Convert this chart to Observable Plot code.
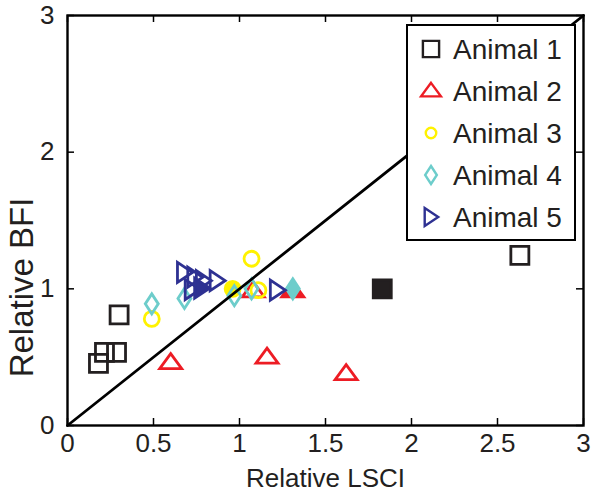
<!DOCTYPE html>
<html>
<head>
<meta charset="utf-8">
<script src="https://cdn.jsdelivr.net/npm/d3@7"></script>
<script src="https://cdn.jsdelivr.net/npm/@observablehq/plot@0.6"></script>
<style>
  body { margin: 0; background: #fff; }
  #chart { width: 600px; height: 495px; }
</style>
</head>
<body>
<div id="chart"></div>
<script>
// ---- data ----
const seriesNames = ["Animal 1", "Animal 2", "Animal 3", "Animal 4", "Animal 5"];
const seriesColors = ["#231f20", "#ed1c24", "#fff200", "#6dcdcb", "#2e3192"];

const animal1X = [0.18, 0.215, 0.285, 0.30, 2.63, 1.83];
const animal1Y = [0.455, 0.535, 0.535, 0.81, 1.245, 1.00];
const animal1Filled = [0, 0, 0, 0, 0, 1];

const animal2X = [0.60, 1.16, 1.62, 1.08, 1.31];
const animal2Y = [0.46, 0.50, 0.38, 0.985, 0.985];
const animal2Filled = [0, 0, 0, 0, 1];

const animal3X = [0.49, 1.07, 0.96, 1.11];
const animal3Y = [0.78, 1.22, 1.00, 0.99];
const animal3Filled = [0, 0, 1, 0];

const animal4X = [0.49, 0.68, 0.97, 1.07, 1.31];
const animal4Y = [0.89, 0.93, 0.95, 1.00, 1.00];
const animal4Filled = [0, 0, 0, 0, 1];

const animal5X = [0.68, 0.74, 0.79, 0.87, 0.725, 0.78, 1.22];
const animal5Y = [1.12, 1.085, 1.06, 1.06, 0.995, 1.005, 0.99];
const animal5Filled = [0, 0, 0, 0, 0, 1, 0];

const xTicks = [0, 0.5, 1, 1.5, 2, 2.5, 3];
const xTickLabels = ["0", "0.5", "1", "1.5", "2", "2.5", "3"];
const yTicks = [0, 1, 2, 3];
const yTickLabels = ["0", "1", "2", "3"];
const identityLine = [0, 3];
const xTitle = "Relative LSCI";
const yTitle = "Relative BFI";

// ---- build table ----
const seriesX = [animal1X, animal2X, animal3X, animal4X, animal5X];
const seriesY = [animal1Y, animal2Y, animal3Y, animal4Y, animal5Y];
const seriesF = [animal1Filled, animal2Filled, animal3Filled, animal4Filled, animal5Filled];
const points = [];
seriesNames.forEach((name, s) => {
  seriesX[s].forEach((x, i) => points.push({animal: name, s, x, y: seriesY[s][i], filled: !!seriesF[s][i]}));
});

// ---- custom symbols (fixed pixel geometry, scaled by k) ----
function makeSymbols(k, kc) {
  return [
    {draw(c) { const h = 9 * k; c.moveTo(-h, -h); c.lineTo(h, -h); c.lineTo(h, h); c.lineTo(-h, h); c.closePath(); }},
    {draw(c) { c.moveTo(0, -9 * k); c.lineTo(11 * k, 6 * k); c.lineTo(-11 * k, 6 * k); c.closePath(); }},
    {draw(c) { const r = 7.5 * kc; c.moveTo(r, 0); c.arc(0, 0, r, 0, 2 * Math.PI); c.closePath(); }},
    {draw(c) { c.moveTo(0, -10 * k); c.lineTo(6.5 * k, 0); c.lineTo(0, 10 * k); c.lineTo(-6.5 * k, 0); c.closePath(); }},
    {draw(c) { c.moveTo(8 * k, 0); c.lineTo(-7 * k, -10 * k); c.lineTo(-7 * k, 10 * k); c.closePath(); }}
  ];
}
const symbols = makeSymbols(1, 1);
const legendSymbols = makeSymbols(0.9, 0.7);

const font = "'Liberation Sans', Arial, Helvetica, sans-serif";
const ink = "#231f20";

const dotMarks = seriesNames.map((name, s) =>
  Plot.dot(points.filter(p => p.s === s), {
    x: "x", y: "y", r: 9,
    symbol: () => symbols[s],
    stroke: seriesColors[s],
    fill: d => d.filled ? seriesColors[s] : "none",
    strokeWidth: 2.8
  })
);

const chart = Plot.plot({
  width: 600, height: 495,
  marginLeft: 67, marginRight: 17, marginTop: 15, marginBottom: 70,
  style: {fontFamily: font, background: "white", overflow: "visible"},
  x: {domain: [0, 3], axis: null},
  y: {domain: [0, 3], axis: null},
  symbol: {type: "identity"},
  marks: [
    ...dotMarks,
    Plot.line(identityLine, {x: d => d, y: d => d, stroke: "black", strokeWidth: 2.8}),
    Plot.frame({stroke: "black", strokeWidth: 2.4}),
    Plot.tickX(xTicks, {x: d => d, stroke: "black", strokeWidth: 1.5, insetTop: 403}),
    Plot.tickX(xTicks, {x: d => d, stroke: "black", strokeWidth: 1.5, insetBottom: 403}),
    Plot.tickY(yTicks, {y: d => d, stroke: "black", strokeWidth: 1.5, insetRight: 509}),
    Plot.tickY(yTicks, {y: d => d, stroke: "black", strokeWidth: 1.5, insetLeft: 509}),
    Plot.text(xTicks, {x: d => d, text: (d, i) => xTickLabels[i], frameAnchor: "bottom", dy: 18, fontSize: 26, fill: ink, textAnchor: "middle", lineAnchor: "middle"}),
    Plot.text(yTicks, {y: d => d, text: (d, i) => yTickLabels[i], frameAnchor: "left", dx: -13, textAnchor: "end", fontSize: 26, fill: ink}),
    Plot.text([xTitle], {text: d => d, frameAnchor: "bottom", dy: 53, fontSize: 26, fill: ink, textAnchor: "middle", lineAnchor: "middle"}),
    Plot.text([yTitle], {text: d => d, frameAnchor: "left", dx: -45, dy: 67, rotate: -90, fontSize: 33, fill: ink, textAnchor: "middle"})
  ]
});

// ---- legend ----
const svg = d3.select(chart);
const lg = svg.append("g").attr("class", "legend");
lg.append("rect").attr("x", 407).attr("y", 25).attr("width", 168).attr("height", 215)
  .attr("fill", "white").attr("stroke", "black").attr("stroke-width", 2);
seriesNames.forEach((name, s) => {
  const cy = 49 + 42 * s;
  const p = d3.path();
  legendSymbols[s].draw(p);
  lg.append("path").attr("transform", `translate(431,${cy})`).attr("d", p.toString())
    .attr("fill", "none").attr("stroke", seriesColors[s]).attr("stroke-width", 2.4);
  lg.append("text").attr("x", 453).attr("y", cy).attr("dy", "0.36em")
    .attr("text-anchor", "start")
    .attr("font-size", 28).attr("font-family", font).attr("fill", ink).text(name);
});

document.getElementById("chart").appendChild(chart);
</script>
</body>
</html>
